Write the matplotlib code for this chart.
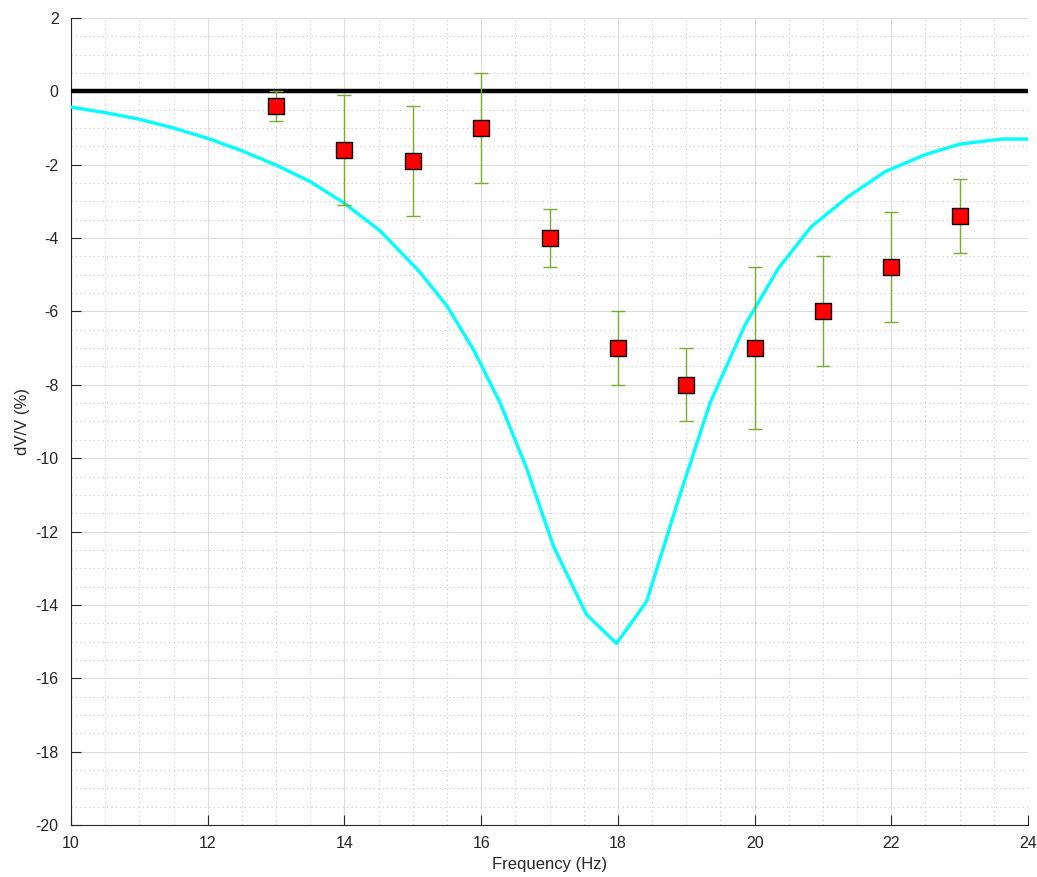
#!/usr/bin/env python3
"""dV/V against frequency: measured points with error bars and model curve."""

import matplotlib

matplotlib.use("Agg")
import matplotlib.pyplot as plt
from matplotlib.ticker import MultipleLocator

FREQ = [13, 14, 15, 16, 17, 18, 19, 20, 21, 22, 23]
DVV = [-0.4, -1.6, -1.9, -1.0, -4.0, -7.0, -8.0, -7.0, -6.0, -4.8, -3.4]
DVV_ERR = [0.4, 1.5, 1.5, 1.5, 0.8, 1.0, 1.0, 2.2, 1.5, 1.5, 1.0]

MODEL_FREQ = [
    10.0, 10.5, 11.0, 11.5, 12.0, 12.5, 13.0, 13.5, 14.0, 14.52, 15.1,
    15.5, 15.89, 16.28, 16.67, 17.06, 17.54, 17.98, 18.42, 18.9, 19.35,
    19.86, 20.35, 20.83, 21.37, 21.91, 22.49, 23.0, 23.61, 24.0,
]
MODEL_DVV = [
    -0.43, -0.58, -0.76, -1.0, -1.28, -1.62, -2.01, -2.46, -3.05, -3.8, -4.92,
    -5.85, -7.05, -8.5, -10.3, -12.41, -14.26, -15.05, -13.91, -11.05, -8.49,
    -6.37, -4.82, -3.69, -2.87, -2.19, -1.73, -1.44, -1.3, -1.3,
]

plt.rcParams["font.family"] = ["Liberation Sans", "DejaVu Sans"]
plt.rcParams["axes.unicode_minus"] = False

fig = plt.figure(figsize=(10.37, 8.77), dpi=100)
ax = fig.add_axes([0.0685, 0.0593, 0.9228, 0.9202])

ax.axhline(0, color="black", linewidth=3.2, zorder=3)
ax.plot(MODEL_FREQ, MODEL_DVV, color="#00FFFF", linewidth=2.4, zorder=4)
ax.errorbar(
    FREQ,
    DVV,
    yerr=DVV_ERR,
    fmt="none",
    ecolor="#77AC30",
    elinewidth=1.0,
    capsize=5,
    capthick=1.0,
    zorder=5,
)
ax.plot(
    FREQ,
    DVV,
    linestyle="none",
    marker="s",
    markersize=11.5,
    markerfacecolor="#FF0000",
    markeredgecolor="black",
    markeredgewidth=1.0,
    zorder=6,
)

ax.set_xlim(10, 24)
ax.set_ylim(-20, 2)
ax.xaxis.set_major_locator(MultipleLocator(2))
ax.yaxis.set_major_locator(MultipleLocator(2))
ax.xaxis.set_minor_locator(MultipleLocator(0.5))
ax.yaxis.set_minor_locator(MultipleLocator(0.5))

ax.grid(which="major", color="#DCDCDC", linewidth=0.8, linestyle="-", zorder=0)
ax.grid(which="minor", color="#C8C8C8", linewidth=0.8, linestyle=(0, (1, 3)), zorder=0)
ax.set_axisbelow(True)

for side in ["top", "right"]:
    ax.spines[side].set_visible(False)
for side in ["left", "bottom"]:
    ax.spines[side].set_color("#262626")
    ax.spines[side].set_linewidth(0.8)

ax.tick_params(which="major", direction="in", length=7, width=0.8,
               colors="#262626", labelsize=11.5)
ax.tick_params(axis="x", which="major", pad=8)
ax.tick_params(axis="y", which="major", pad=9)
ax.tick_params(which="minor", length=0)

ax.set_xlabel("Frequency (Hz)", fontsize=12, color="#262626", labelpad=4)
ax.set_ylabel("dV/V (%)", fontsize=12, color="#262626", labelpad=4)

fig.savefig("out.png", dpi=100)
plt.close(fig)
